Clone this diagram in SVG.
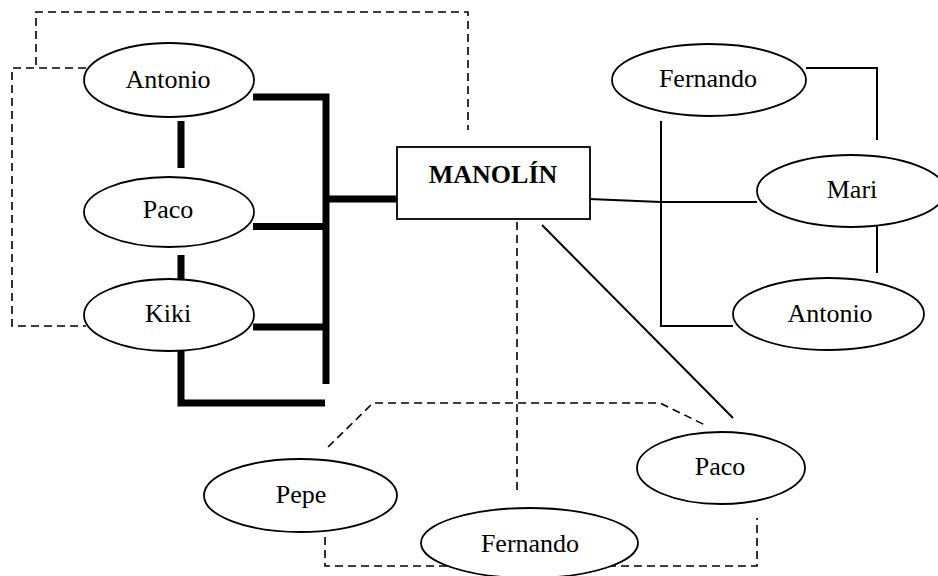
<svg xmlns="http://www.w3.org/2000/svg" width="938" height="576" viewBox="0 0 938 576">
  <style>
    .node ellipse, .node rect { fill: #fff; stroke: #000; stroke-width: 1.8; }
    .node text { font-family: "Liberation Serif", "Times New Roman", serif; font-size: 26px; text-anchor: middle; fill: #000; }
    .node text.main { font-weight: bold; }
    .thin { fill: none; stroke: #000; stroke-width: 2; }
    .dash { fill: none; stroke: #000; stroke-width: 1.6; stroke-dasharray: 8 5; }
    .thick { fill: none; stroke: #000; stroke-width: 7; stroke-linejoin: miter; }
  </style>
  <rect width="938" height="576" fill="#fff"/>

  <g id="connectors">
    <!-- heavy links on the left -->
    <path class="thick" d="M253,97 H326 V384"/>
    <path class="thick" d="M253,226.5 H326"/>
    <path class="thick" d="M253,327 H326"/>
    <path class="thick" d="M326,199 H397"/>
    <path class="thick" d="M181,121 V168"/>
    <path class="thick" d="M181,255 V280"/>
    <path class="thick" d="M181,351 V403 H325"/>

    <!-- plain links on the right -->
    <path class="thin" d="M806,68 H877 V140"/>
    <path class="thin" d="M877,226 V273"/>
    <path class="thin" d="M589,199 L661,202 H757"/>
    <path class="thin" d="M661,121 V326 H733"/>
    <path class="thin" d="M542,225 L733,418"/>

    <!-- dashed links -->
    <path class="dash" d="M36,65 V12 H468 V130"/>
    <path class="dash" d="M86,68 H12 V326 H86"/>
    <path class="dash" d="M517,222 V493"/>
    <path class="dash" d="M328,447 L373,403 H660 L705,425"/>
    <path class="dash" d="M325,537 V566 H757 V518"/>
  </g>

  <g id="manolin" class="node">
    <rect x="397" y="147" width="193" height="72"/>
    <text class="main" x="493" y="183">MANOLÍN</text>
  </g>
  <g id="antonio-left" class="node">
    <ellipse cx="169" cy="80" rx="85" ry="37"/>
    <text x="168" y="88">Antonio</text>
  </g>
  <g id="paco-left" class="node">
    <ellipse cx="169" cy="212" rx="85" ry="35"/>
    <text x="168" y="218">Paco</text>
  </g>
  <g id="kiki" class="node">
    <ellipse cx="169" cy="315" rx="85" ry="36"/>
    <text x="168" y="322">Kiki</text>
  </g>
  <g id="fernando-top" class="node">
    <ellipse cx="709" cy="80" rx="97" ry="36"/>
    <text x="708" y="87">Fernando</text>
  </g>
  <g id="mari" class="node">
    <ellipse cx="851" cy="191" rx="94" ry="36"/>
    <text x="852" y="198">Mari</text>
  </g>
  <g id="antonio-right" class="node">
    <ellipse cx="828.5" cy="314" rx="95.5" ry="36"/>
    <text x="830" y="322">Antonio</text>
  </g>
  <g id="paco-right" class="node">
    <ellipse cx="721" cy="468" rx="84" ry="36"/>
    <text x="720" y="475">Paco</text>
  </g>
  <g id="pepe" class="node">
    <ellipse cx="300.5" cy="495.5" rx="96.5" ry="36.5"/>
    <text x="301" y="503">Pepe</text>
  </g>
  <g id="fernando-bottom" class="node">
    <ellipse cx="529.5" cy="543" rx="108.5" ry="35"/>
    <text x="530" y="552">Fernando</text>
  </g>
</svg>
